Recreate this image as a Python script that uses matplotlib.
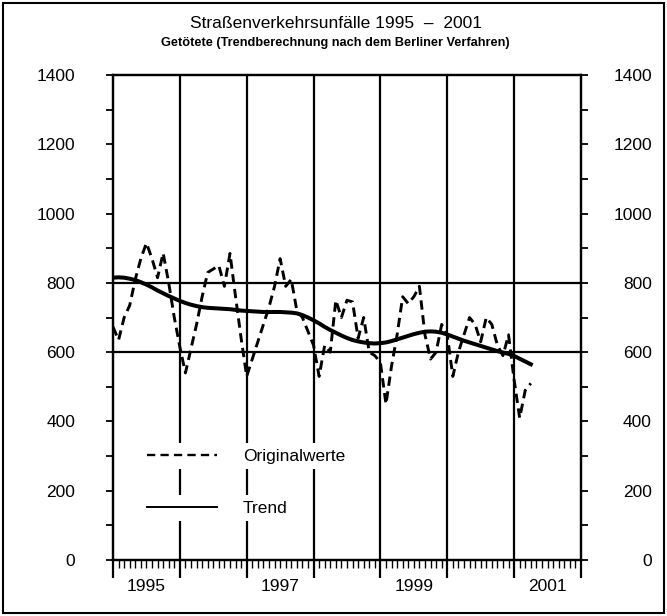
import matplotlib
matplotlib.use("Agg")
import matplotlib.pyplot as plt
import numpy as np
from matplotlib.ticker import FixedLocator, MultipleLocator, FuncFormatter, NullFormatter
from matplotlib.patches import Rectangle
from matplotlib.lines import Line2D

plt.rcParams['font.family'] = ['Liberation Sans', 'DejaVu Sans']

# Monthly values, Jan 1995 .. Apr 2001 (month index 0 = Jan 1995)
original = [673, 635, 700, 735, 810, 870, 915, 870, 815, 886, 800, 700,   # 1995
            615, 540, 610, 680, 760, 830, 840, 850, 790, 885, 760, 640,   # 1996
            530, 580, 630, 680, 730, 790, 870, 790, 810, 720, 700, 660,   # 1997
            620, 530, 620, 600, 750, 700, 750, 745, 640, 700, 600, 590,   # 1998
            570, 450, 560, 650, 760, 740, 760, 790, 650, 580, 600, 680,   # 1999
            650, 530, 600, 650, 700, 680, 630, 700, 680, 620, 590, 650,   # 2000
            520, 410, 490, 510]                                           # 2001
trend = [815, 816, 815, 812, 808, 802, 795, 787, 778, 770, 762, 755,
         748, 742, 737, 733, 730, 728, 727, 726, 725, 724, 722, 720,
         719, 718, 717, 716, 716, 716, 716, 715, 714, 712, 707, 700,
         692, 683, 673, 664, 656, 648, 641, 635, 631, 628, 626, 625,
         626, 628, 632, 637, 642, 647, 652, 656, 659, 660, 659, 656,
         651, 645, 639, 633, 628, 623, 618, 613, 608, 603, 599, 595,
         589, 581, 573, 565]
year_labels = {6: "1995", 30: "1997", 54: "1999", 78: "2001"}
y_labels = [0, 200, 400, 600, 800, 1000, 1200, 1400]

months = np.arange(len(original))

fig = plt.figure(figsize=(6.67, 6.16), dpi=100)
ax = fig.add_axes([0.1694, 0.0909, 0.7016, 0.7873])

# frame around the whole figure
fig.patches.append(Rectangle((0.005, 0.005), 0.99, 0.99, transform=fig.transFigure,
                             fill=False, edgecolor="black", linewidth=1.5))

# grid lines: years and 600 / 800
for yb in range(12, 84, 12):
    ax.axvline(yb, color="black", lw=1.6, zorder=1)
for hy in (600, 800):
    ax.axhline(hy, color="black", lw=1.6, zorder=1)

dash = (0, (3.2, 1.9))
ax.plot(months, original, color="black", lw=2.1, linestyle=dash, zorder=3)
ax.plot(months, trend, color="black", lw=2.9, zorder=4)

ax.set_xlim(0, 84)
ax.set_ylim(0, 1400)

for s in ax.spines.values():
    s.set_linewidth(1.6)

# x axis: year ticks, monthly minor ticks, labels in the middle of the year
ax.xaxis.set_major_locator(FixedLocator(range(0, 85, 12)))
ax.xaxis.set_major_formatter(NullFormatter())
ax.xaxis.set_minor_locator(MultipleLocator(1))
ax.xaxis.set_minor_formatter(FuncFormatter(lambda v, p: year_labels.get(int(round(v)), "")))
ax.tick_params(axis="x", which="major", direction="out", length=13, width=1.6)
ax.tick_params(axis="x", which="minor", direction="out", length=6, width=1.0,
               labelsize=12.5, pad=8)

# left y axis
ax.yaxis.set_major_locator(FixedLocator(y_labels))
ax.yaxis.set_minor_locator(MultipleLocator(100))
ax.tick_params(axis="y", which="both", direction="out", length=5, width=1.3)
ax.tick_params(axis="y", which="major", labelsize=12.5, pad=22)

# right y axis (labels right-aligned further out)
ax2 = ax.twinx()
ax2.set_ylim(0, 1400)
ax2.yaxis.set_major_locator(FixedLocator(y_labels))
ax2.yaxis.set_minor_locator(MultipleLocator(100))
ax2.tick_params(axis="y", which="both", direction="out", length=5, width=1.3)
ax2.tick_params(axis="y", which="major", labelsize=12.5, pad=46)
for lab in ax2.get_yticklabels():
    lab.set_horizontalalignment("right")
for s in ax2.spines.values():
    s.set_linewidth(1.6)

# titles
fig.text(0.503, 0.962, "Straßenverkehrsunfälle 1995  \u2013  2001", ha="center", va="center",
         fontsize=12.5)
fig.text(0.503, 0.930, "Getötete (Trendberechnung nach dem Berliner Verfahren)", ha="center",
         va="center", fontsize=9.2, fontweight="bold")

# legend rows, each with its own white box
h1 = Line2D([], [], color="black", lw=1.7, linestyle=(0, (3.5, 2.2)))
h2 = Line2D([], [], color="black", lw=1.4)
leg1 = ax2.legend([h1], ["Originalwerte"], loc="center left", bbox_to_anchor=(0.062, 0.214),
                  frameon=True, framealpha=1, edgecolor="none", fancybox=False, fontsize=12.5,
                  handlelength=4.0, handletextpad=1.5, borderpad=0.3, borderaxespad=0)
ax2.add_artist(leg1)
leg2 = ax2.legend([h2], ["Trend"], loc="center left", bbox_to_anchor=(0.062, 0.107),
                  frameon=True, framealpha=1, edgecolor="none", fancybox=False, fontsize=12.5,
                  handlelength=4.0, handletextpad=1.5, borderpad=0.3, borderaxespad=0)

fig.savefig("out.png", dpi=100)
